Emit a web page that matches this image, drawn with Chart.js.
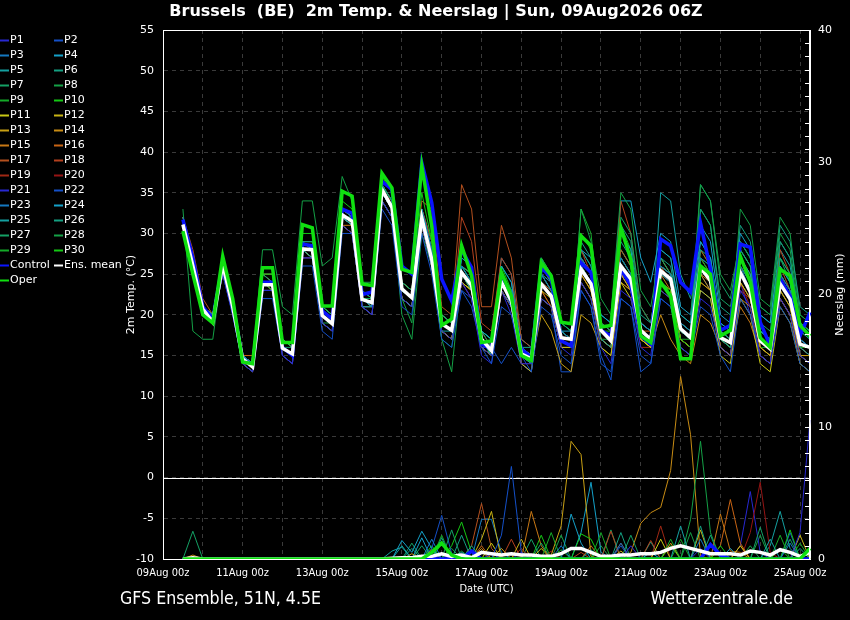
<!DOCTYPE html>
<html>
<head>
<meta charset="utf-8">
<script src="https://cdn.jsdelivr.net/npm/chart.js@4/dist/chart.umd.min.js"></script>
<style>
  html, body { margin: 0; padding: 0; background: #000; }
  #wrap { width: 850px; height: 620px; position: relative; }
</style>
</head>
<body>
<div id="wrap"><canvas id="meteogram" width="850" height="620"></canvas></div>
<script>
// time axis: 09Aug 00z .. 25Aug 06z, 6-hourly; model output starts 09Aug 12z
const days = ['09Aug','10Aug','11Aug','12Aug','13Aug','14Aug','15Aug','16Aug','17Aug','18Aug','19Aug','20Aug','21Aug','22Aug','23Aug','24Aug','25Aug'];
const synopHours = ['00z','06z','12z','18z'];
const leadSteps = 2;   // 09Aug 00z and 06z have no data

const memberNames = ['P1','P2','P3','P4','P5','P6','P7','P8','P9','P10','P11','P12','P13','P14','P15','P16','P17','P18','P19','P20','P21','P22','P23','P24','P25','P26','P27','P28','P29','P30'];
const memberColors = ['#2828d2','#1450c8','#1478c0','#14a0c8','#14a0a0','#14a082','#14a064','#14a046','#14aa28','#14c814',
                      '#c8c814','#c8b414','#c8a014','#c88c14','#c87814','#c86414','#b4501e','#b4401e','#a02814','#961414',
                      '#2828d2','#1450c8','#1478c0','#14a0c8','#14a0a0','#14a082','#14a064','#14a046','#14aa28','#14c814'];

// 2m temperature (°C)
const tempMean = [31.1,26,20.7,19.1,26.2,21,14.6,13.6, 23.7,23.7,15.9,15.2,28.1,28,19.9,18.9, 32.3,31.5,21.9,21.5,35.4,33.2,23.2,22.1, 31.9,26.8,18.9,18.1,25.2,23.6,17,15.6, 24,21.7,15.2,14.6,23.8,22.3,17.2,17, 25.6,23.8,18.1,16.8,26,24.4,18.1,17, 25.4,24.4,18.3,17.2,25.8,24.2,17.2,16.6, 25.2,22.8,16.8,15.8,23.8,21.9,16.4,16];
const tempControl = [31.7,27,21,19.5,26.5,21.5,14.5,13.8, 24,24,16,15,28.7,28.5,20.5,19.5, 33,32.5,22.5,22.8,36.4,35.4,26,25, 38.7,33.8,24.4,21.7,28,25.8,16.4,15.8, 24.8,21.7,15.8,14.8,25.8,24.6,16.8,16.2, 26.4,25.2,18.1,17.4,25.6,23.6,17.4,16.4, 29.3,28.5,24,22.8,31.3,25.6,18.1,18.7, 28.7,28.3,19.1,16.2,24.4,22.3,17.4,20.3];
const tempOper = [30.3,25,20,19,27.2,22,14.2,14, 25.8,25.8,16.6,16.6,31.1,30.7,21.1,21.1, 35.2,34.6,23.8,23.6,37.4,35.6,25.6,25.2, 38.3,30.9,18.7,19.5,28.5,24.8,16.6,16.8, 25.2,22.3,15,14.4,26.4,24.8,19.1,18.9, 29.7,28.5,18.5,18.7,30.7,26.8,17.4,16.6, 24,22.3,14.6,14.6,26,25,17.4,18.1, 27.2,24,17.2,16,25.6,24.8,18.7,17.4];

const tempP1  = [31,26,20,19,25,20,14,13, 23,23,15,14,27,27,19,18, 31,30,21,20,34,32,22,21, 31,26,18,17,24,22,16,15, 23,21,14,14,22,21,16,15, 24,22,16,14,23,22,16,15, 23,22,16,15,22,21,16,15, 23,21,15,14,22,20,15,14];
const tempP2  = [30,25,20,19,25,20,14,13, 22,22,15,14,26,26,18,17, 30,30,21,20,33,31,21,20, 30,25,17,16,23,22,16,14, 21,20,15,13,21,20,15,14, 23,21,14,13,22,21,15,14, 22,21,16,15,21,20,15,13, 22,20,15,14,21,19,14,13];
const tempP3  = [32,27,21,20,27,22,15,14, 24,24,16,15,29,28,20,19, 33,32,22,21,35,33,23,22, 33,28,19,18,26,24,17,16, 25,22,16,15,25,23,18,17, 27,25,18,17,27,25,19,18, 26,25,19,18,27,26,18,17, 26,24,17,16,25,23,17,16];
const tempP4  = [31,26,21,19,26,21,15,14, 24,24,16,15,28,28,20,19, 32,31,22,21,35,33,23,22, 32,27,19,18,27,26,18,17, 26,24,16,15,25,24,18,18, 28,27,20,19,30,28,19,18, 28,27,20,19,29,27,19,18, 27,25,18,17,26,24,17,16];
const tempP5  = [30,26,20,19,26,21,15,14, 23,23,16,15,28,27,19,18, 32,31,21,21,34,32,22,21, 31,27,18,18,25,23,17,15, 24,21,15,14,24,22,17,16, 26,24,17,16,26,24,18,17, 25,24,18,17,26,24,17,16, 25,23,17,16,24,22,16,15];
const tempP6  = [31,27,21,20,27,22,15,14, 25,24,17,16,29,29,21,20, 33,32,23,22,36,34,24,23, 33,28,20,19,26,25,18,17, 25,23,16,16,26,24,19,18, 29,27,19,18,31,29,20,19, 27,26,19,18,28,27,19,18, 28,26,18,17,27,25,18,17];
const tempP7  = [30,25,20,19,26,21,15,14, 24,24,16,16,29,28,20,19, 33,32,22,22,36,34,23,22, 32,27,19,18,26,24,18,16, 25,23,16,15,25,23,18,17, 27,25,18,17,32,30,21,19, 27,25,19,18,33,31,22,21, 28,26,18,17,29,27,19,18];
const tempP8  = [33,18,17,17,26,21,15,14, 28,28,21,20,34,34,26,27, 37,34,24,24,36,33,20,17, 30,26,17,16,25,24,17,15, 24,22,15,14,24,22,18,17, 33,29,22,20,35,33,23,21, 28,27,20,19,36,34,25,23, 29,27,21,20,30,28,20,19];
const tempP9  = [31,26,21,19,26,21,14,14, 24,23,16,15,28,28,20,19, 32,32,22,21,36,34,23,22, 33,27,19,18,25,24,17,16, 24,22,15,14,24,22,17,17, 33,30,18,17,27,25,18,17, 26,25,18,17,27,25,17,16, 26,24,17,16,25,23,16,16];
const tempP10 = [30,25,20,19,27,22,15,14, 25,25,17,16,30,30,21,20, 34,33,23,22,37,35,24,23, 35,29,20,19,26,24,18,17, 26,23,16,15,27,25,19,18, 30,28,18,17,31,28,19,18, 24,23,17,16,27,26,18,17, 28,26,18,17,27,25,19,18];
const tempP11 = [31,26,21,19,25,21,14,13, 24,24,16,15,28,27,20,19, 32,31,22,21,35,33,22,21, 31,26,18,17,24,23,16,15, 23,21,14,13,22,21,16,16, 24,22,16,15,24,22,17,16, 23,22,16,15,23,22,15,14, 22,20,14,13,21,19,14,13];
const tempP12 = [31,27,21,20,26,21,15,14, 24,23,16,15,28,28,20,19, 32,31,22,21,35,33,23,22, 32,27,19,18,25,23,17,16, 24,22,15,15,23,22,17,16, 25,23,17,16,25,23,17,16, 24,23,17,16,24,23,16,15, 24,22,16,15,23,21,15,14];
const tempP13 = [31,26,20,19,26,21,15,14, 24,24,16,15,28,28,20,19, 31,30,21,20,34,32,22,21, 31,26,18,17,24,23,16,15, 23,21,15,14,20,18,14,13, 20,19,16,15,24,23,17,16, 24,23,17,16,25,23,17,16, 24,22,16,15,23,21,15,15];
const tempP14 = [32,27,21,20,26,22,15,14, 24,24,16,15,28,28,20,19, 32,31,22,21,35,33,23,22, 32,27,19,18,25,24,17,16, 24,22,16,15,24,22,17,17, 26,24,18,17,25,23,17,16, 20,17,15,14,20,19,16,15, 22,21,15,14,22,20,14,13];
const tempP15 = [30,26,20,19,26,21,14,14, 23,23,16,15,28,27,19,18, 31,31,21,21,35,33,22,21, 32,26,18,17,24,23,16,15, 23,21,15,14,23,21,17,16, 25,23,17,16,25,24,17,16, 25,23,17,16,25,24,16,15, 21,19,15,14,22,20,15,14];
const tempP16 = [31,27,21,20,27,22,15,15, 25,25,17,16,29,28,20,19, 33,32,22,21,36,34,24,23, 33,28,19,18,26,25,18,16, 25,22,16,15,24,23,18,17, 27,25,18,17,27,25,18,18, 26,25,19,18,26,25,18,17, 26,24,18,17,25,23,16,15];
const tempP17 = [32,28,22,20,27,22,15,14, 25,24,17,16,29,29,21,20, 33,32,23,22,36,34,24,23, 34,33,21,20,36,33,21,21, 31,27,17,16,25,23,18,17, 27,25,19,18,28,26,19,18, 27,25,18,17,28,26,18,17, 27,25,17,16,26,23,16,15];
const tempP18 = [31,27,21,20,26,21,15,14, 24,24,16,15,28,28,20,19, 32,31,22,21,35,34,24,23, 33,29,20,19,32,29,19,18, 27,25,16,15,26,24,17,17, 28,25,18,17,34,30,21,19, 26,24,18,17,27,25,17,16, 26,24,17,16,28,25,17,16];
const tempP19 = [30,26,20,19,25,21,14,13, 23,23,15,14,27,27,19,18, 31,30,21,20,34,32,22,21, 31,26,18,17,24,22,16,15, 23,21,14,14,23,21,16,16, 25,23,17,16,24,23,16,16, 24,23,17,16,24,23,16,15, 23,22,16,15,24,22,15,15];
const tempP20 = [31,26,21,19,26,21,15,14, 24,23,16,15,28,28,20,19, 32,31,22,21,35,33,23,22, 32,27,19,18,25,24,17,16, 24,22,16,15,24,22,17,17, 26,24,18,17,26,24,18,17, 25,24,18,17,26,24,17,16, 24,21,15,14,25,22,16,16];
const tempP21 = [31,26,20,19,26,21,14,14, 24,24,16,15,28,27,20,19, 32,31,21,21,35,33,22,21, 32,27,18,17,24,22,15,14, 23,20,14,13,22,21,16,16, 24,22,17,16,25,23,17,16, 25,24,18,17,25,23,17,16, 24,20,15,14,23,21,16,15];
const tempP22 = [31,26,21,19,26,21,15,14, 23,23,15,14,27,27,19,18, 31,30,21,20,34,32,22,21, 31,26,18,17,23,21,16,16, 14,16,14,13,22,21,13,13, 23,21,15,12,22,21,13,14, 22,21,17,16,23,22,16,15, 24,22,16,15,22,20,15,14];
const tempP23 = [31,27,21,20,26,21,15,14, 24,24,16,15,29,28,20,19, 32,32,22,21,35,33,23,22, 32,27,19,18,25,24,17,16, 25,22,15,15,24,23,18,17, 27,25,18,17,27,25,18,17, 26,25,18,17,26,25,18,17, 26,23,17,16,25,23,17,16];
const tempP24 = [32,27,21,20,27,22,15,14, 25,25,17,16,29,29,21,20, 33,32,23,22,36,34,24,23, 33,29,20,19,27,26,18,17, 27,25,17,16,27,24,18,17, 26,24,20,19,34,34,27,24, 30,29,21,20,31,29,20,19, 30,28,20,19,29,27,19,18];
const tempP25 = [31,26,21,19,26,21,15,14, 24,24,16,15,28,28,20,19, 32,31,22,21,35,33,23,22, 32,27,19,18,26,24,17,16, 26,24,16,15,27,25,19,18, 28,26,19,18,28,26,18,17, 35,34,25,22,29,27,19,18, 29,27,20,19,28,26,19,18];
const tempP26 = [31,26,20,19,26,21,15,14, 24,24,16,15,28,28,20,19, 33,32,22,21,35,33,23,22, 32,27,19,18,25,24,17,16, 25,23,16,15,26,24,18,17, 28,26,19,18,29,27,19,18, 26,25,18,17,33,31,21,20, 31,29,21,20,31,29,21,20];
const tempP27 = [30,25,20,19,26,21,15,14, 24,24,16,15,28,27,20,19, 32,31,22,21,35,33,23,22, 31,26,18,17,24,23,16,15, 23,21,15,14,24,22,17,16, 26,24,18,17,26,24,18,17, 26,24,18,17,36,34,24,22, 29,27,19,18,27,24,18,17];
const tempP28 = [31,26,21,19,26,21,14,14, 24,23,16,15,28,27,19,19, 32,31,21,21,35,33,22,19, 31,27,17,13,25,23,17,15, 25,22,16,15,26,24,17,17, 27,25,17,17,27,25,18,17, 26,25,18,17,27,25,18,17, 33,31,22,21,32,30,20,19];
const tempP29 = [30,26,20,19,26,21,15,14, 24,24,16,15,28,28,20,19, 32,31,22,21,35,33,23,22, 32,27,19,18,25,23,17,16, 24,22,15,15,24,22,17,16, 26,24,17,16,26,24,17,17, 25,24,17,17,26,24,17,16, 25,23,16,16,24,22,16,15];
const tempP30 = [31,26,21,20,27,22,15,14, 25,24,17,16,29,29,21,20, 33,32,22,22,36,34,24,23, 33,28,20,19,26,25,18,17, 25,23,16,15,25,23,18,17, 27,25,18,18,28,26,19,18, 27,25,19,18,28,26,18,17, 27,25,18,17,26,24,17,16];

// 6-hourly precipitation (mm)
const precMean    = [0,0.1,0,0,0,0,0,0, 0,0,0,0,0,0,0,0, 0,0,0,0,0,0.05,0.1,0.1, 0.2,0.2,0.4,0.2,0.3,0.1,0.5,0.4, 0.3,0.4,0.3,0.3,0.2,0.2,0.4,0.8, 0.8,0.5,0.2,0.2,0.3,0.3,0.4,0.4, 0.5,0.8,1,0.8,0.6,0.4,0.4,0.4, 0.3,0.6,0.5,0.3,0.7,0.5,0.2,0.5];
const precControl = [0,0,0,0,0,0,0,0, 0,0,0,0,0,0,0,0, 0,0,0,0,0,0,0,0, 0,0,0,0,0,0.6,0,0, 0,0,0,0,0,0,0,0, 0,0,0,0,0,0,0,0, 0,0,0,0,0,1.1,0.3,0, 0,0,0,0,0,0,0,0];
const precOper    = [0,0,0,0,0,0,0,0, 0,0,0,0,0,0,0,0, 0,0,0,0,0,0,0,0, 0,0.5,1.2,0.3,0,0,0,0, 0,0,0,0,0,0,0,0, 0,0,0,0,0,0,0,0, 0,0,0,0,0,0,0,0, 0,0,0,0,0,0,0,0.8];

const precP1  = [0,0,0,0,0,0,0,0, 0,0,0,0,0,0,0,0, 0,0,0,0,0,0,0,0, 0,0,0,0,0,0,0,0.4, 0,0,0.5,0,0,0,0,0, 0,0,0,0,0,1,0,0, 0,0,0,0,0.8,0,0,0, 0,0,0,0,0,0,2,10.5];
const precP2  = [0,0,0,0,0,0,0,0, 0,0,0,0,0,0,0,0, 0,0,0,0,0,0,0,0, 0,0,0,0,0,0,0,0, 1.8,7,0.5,0,0,0,0,0, 0,0,0,0.3,0,0,0,0, 0,0,0,0,0,0,0,0, 0,0,0,0,0,0,0,0];
const precP3  = [0,0,0,0,0,0,0,0, 0,0,0,0,0,0,0,0, 0,0,0,0,0,0,0,0, 0,1.5,0,0,0,0,0,0, 0,0,0,0,0,0,1,0, 0,0,0,0,1.2,0,0,0, 0,0,0,0,1.5,0,0,0, 0,0,0,0,0,1.2,0,0];
const precP4  = [0,0,0,0,0,0,0,0, 0,0,0,0,0,0,0,0, 0,0,0,0,0,0,1.4,0.5, 2.1,0.8,0,0,0,0,0,0, 0,0,0,0,0,0,0,3.4, 1.2,0,0,0,0,0,0,0.5, 0,0,0,0,0,0,0,0.8, 0,0,0,0,0,0,0,0];
const precP5  = [0,0,0,0,0,0,0,0, 0,0,0,0,0,0,0,0, 0,0,0,0,0,0.6,0.9,0, 0,0,0,0,0.5,0,0,0, 0,0,0,0,0,0,0,0, 0,0.7,0,0,0,0,0,0, 0,0,2.5,0,0,0,0,0, 0,0,0,1.5,0,0,0,0];
const precP6  = [0,0,0,0,0,0,0,0, 0,0,0,0,0,0,0,0, 0,0,0,0,0,0,0,0.8, 0,0,1.6,0,0,1,0,0, 0,0,0,0,0,0,0,0, 0,0,0,0,2,0,0,0, 0,0,0,0,2.5,0,0,0, 0,0,0,0,0,0,0.8,0];
const precP7  = [0,2.1,0,0,0,0,0,0, 0,0,0,0,0,0,0,0, 0,0,0,0,0,0,0,0, 1,0,0,2.2,0,0,0,0, 0,0,0,0,1.2,0,0,0, 0,0,0,0,0,1.8,0,0, 0,0,0,0,0,0,0,0, 0,0,2.4,0,0,0,0,0];
const precP8  = [0,0,0,0,0,0,0,0, 0,0,0,0,0,0,0,0, 0,0,0,0,0,0,0,0, 0,0,0,0,0.6,0,0,0, 0,0,0,0,0,0,1.8,0, 0,0,0,0,0,0,0,0, 0,0,0,3,8.9,2,0,0, 0,1,0,0,0,0,0,0];
const precP9  = [0,0,0,0,0,0,0,0, 0,0,0,0,0,0,0,0, 0,0,0,0,0,0,0,0, 0,0,1.2,0,0,0,0,0, 0,0,0,0,0,2,0,0, 0,0,2,0,0,0,0,0, 0,1.5,0,0,0,0,0,0, 0,0,0,0,1.8,0,0,0];
const precP10 = [0,0,0,0,0,0,0,0, 0,0,0,0,0,0,0,0, 0,0,0,0,0,0,0,0, 0,0,0,1,2.8,0.5,0,0, 0,0,0,0,0,0,0,0, 1.9,1.5,0,0,0,0,0,0, 0,0,0,0,0,0,1,0, 0,0,0,0,0,2.2,0,0];
const precP11 = [0,0,0,0,0,0,0,0, 0,0,0,0,0,0,0,0, 0,0,0,0,0,0,0,0, 0,0,0,0,0,0,0,1.2, 0,0,0,0,0.8,0,0,0, 0,0,0,0,0,0,0,0, 1.5,0,0,0,0,0,0,0, 1,0,0,0,0,0,0,0];
const precP12 = [0,0,0,0,0,0,0,0, 0,0,0,0,0,0,0,0, 0,0,0,0,0,0,0,0, 0,0.7,0,0,0,0,1.5,3.6, 0,0,1.5,0,0,0,0,0, 0,0,0,0,0.6,0,0,0, 0,0,0,0,2.2,0,0,0, 0,0,0,0,0,0,1.8,0];
const precP13 = [0,0,0,0,0,0,0,0, 0,0,0,0,0,0,0,0, 0,0,0,0,0,0,0,0.4, 0,0,0,0,0,0,0,0, 0.8,0,0,0,0,0.3,2.5,8.9, 7.9,0.2,0,0,0,0,0,0, 0,1.2,0,0,0,0,0,0, 0,0,0,0,0,0,0,0];
const precP14 = [0,0.3,0,0,0,0,0,0, 0,0,0,0,0,0,0,0, 0,0,0,0,0,0,0,0, 0,0,0,0,0,0,0.8,0, 0,0,0,0,0,0,0,0, 0,0,0,0,0,0.5,2.7,3.5, 3.9,6.7,13.8,9.4,0.2,0,0,0, 0,0,0,0,0,0,0,0];
const precP15 = [0,0,0,0,0,0,0,0, 0,0,0,0,0,0,0,0, 0,0,0,0,0,0,0,0, 0,0,0,0,0,0,0.5,0, 0,0,0,3.6,1,0,0,0, 0,0,0,0,0,0,0,0, 0,0,0,0,0,0,3.4,0.6, 0.5,0,0,0,0,0,0,0];
const precP16 = [0,0,0,0,0,0,0,0, 0,0,0,0,0,0,0,0, 0,0,0,0,0,0,0,0, 0,0,0,0,0,0,1,0, 0,0,0,0,0,0,0,0, 0,1,0,0,0,0,0,0, 0,0,0,0,0,0,1,4.5, 1.2,0,0,0,0,0,0,0];
const precP17 = [0,0,0,0,0,0,0,0, 0,0,0,0,0,0,0,0, 0,0,0,0,0,0,0,0, 0,0,0,0,0,1,4.2,0.8, 0,0,0,0,0,0,0,0, 0,0,0,0,0,0,0,0, 0,0,0,0,0,0,0,0, 0,0,0,0,0,0,0,0.6];
const precP18 = [0,0,0,0,0,0,0,0, 0,0,0,0,0,0,0,0, 0,0,0,0,0,0,0,0, 0,0,0,0,0,0,0,0, 0,1.5,0,0,0,0,0,0, 0.5,0,0,2.1,0,0,0,1.4, 0,0,0,0,0,0,0,0, 1,0,0,0,0,0,0,0];
const precP19 = [0,0,0,0,0,0,0,0, 0,0,0,0,0,0,0,0, 0,0,0,0,0,0,0,0, 0,0,0,0,0,0,0,0, 0,0,0.8,0,0,0,0,0, 0,0,0,0,1.2,0,0,0, 2.5,0,0,0,0,0,0,0, 0,0,0,0,0,0,0,0];
const precP20 = [0,0,0,0,0,0,0,0, 0,0,0,0,0,0,0,0, 0,0,0,0,0,0,0,0, 0,0,0,0,0,0,0,0, 0,0,0,0,0,0.6,0,0, 0,0,0,0,0,0,0,0, 0,0,0,0,0,0,0,0, 0,2,5.8,0.5,0,0,0,0];
const precP21 = [0,0,0,0,0,0,0,0, 0,0,0,0,0,0,0,0, 0,0,0,0,0,0,0,0, 0,0,0.3,0,0,0,0,0, 0,0,0,0,0,0,0,0, 0,0,0,0,0,0,0,0, 0,0,0,0,0,0,0,0, 1,5.1,0.5,0,0,0,0,0];
const precP22 = [0,0,0,0,0,0,0,0, 0,0,0,0,0,0,0,0, 0,0,0,0,0,0,0,0, 0,0.8,3.3,0.4,0,0,0,0, 0,0,0,0,0,0,0,0, 0,0,0,0,1,0,0,0, 0,0,0,0,0,0,0,0, 0,0,0,0,0,2,0,0];
const precP23 = [0,0,0,0,0,0,0,0, 0,0,0,0,0,0,0,0, 0,0,0,0,0,0,0,0, 0,0,0,0,0,0,3,3, 0.5,0,0,0,0,0,0,0, 0,0,0,0,0,0,0,0, 0,0,0,0,0,0,0,0, 0,0,0,0,0,0,0,0];
const precP24 = [0,0,0,0,0,0,0,0, 0,0,0,0,0,0,0,0, 0,0,0,0,0,0,0,0, 1.6,0,0,0,0,0,0,0, 0,0,0,0,0,0,0,0, 2,5.8,0.5,0,0,0,0,0, 0,0,0,0,0,0,0,0, 0,0,0,0,0,0,0,0];
const precP25 = [0,0,0,0,0,0,0,0, 0,0,0,0,0,0,0,0, 0,0,0,0,0,0,1,0, 0,0,0,0,0,0,0,0, 0,0,0,0,0,0,0,0, 0,0,0,0,0,0,0,0, 0,0,0,0,0,0,0,0, 0,0,0,1,3.6,0.8,0,0];
const precP26 = [0,0,0,0,0,0,0,0, 0,0,0,0,0,0,0,0, 0,0,0,0,0,0,0,0, 0,0,0,0,1.8,0,0,0, 0,0,0,0,0,0,0,0, 0,0,0,0,0,0,0,1.3, 0,0,0,0,0,1.8,0,0, 0,0,0,0,0,0,0,0];
const precP27 = [0,0,0,0,0,0,0,0, 0,0,0,0,0,0,0,0, 0,0,0,0,0,0,0,1.2, 0,0,0,0,0,0,0,0, 0,0,0,1.5,0,0,0,0, 0,0,0,2.2,0,0,0,0, 0,0,0,0,0,0,0,0, 0,0,0,0,0,1.5,0,0];
const precP28 = [0,0,0,0,0,0,0,0, 0,0,0,0,0,0,0,0, 0,0,0,0,0,0,0,0, 0,0,0,0.8,0,0,0,0, 0,0,0,0,0,0,0,0, 0,0,1,0,0,0,0,0, 0,0,0,2,0,0,0,0, 0,0,1.8,0,0,0,0,0];
const precP29 = [0,0,0,0,0,0,0,0, 0,0,0,0,0,0,0,0, 0,0,0,0,0,0,0,0, 0,0,1.8,0,0,0,0,0, 0,0,0,0,0,0,0.7,0, 0,0,0,0,0,0,0,0, 0,0,1.5,0,0,0,0,0, 0,0,0,0,0,0,1.2,0];
const precP30 = [0,0,0,0,0,0,0,0, 0,0,0,0,0,0,0,0, 0,0,0,0,0,0,0,0, 0,1,0,0,0,0,0,0, 0,0,0,0,1.8,0,0,0, 0,0,0,0,0,0,0,0, 0,1,0,0,0,0,0,0, 0,0,0,0,0.8,0,0,0];

const memberTemps = [tempP1,tempP2,tempP3,tempP4,tempP5,tempP6,tempP7,tempP8,tempP9,tempP10,tempP11,tempP12,tempP13,tempP14,tempP15,
                     tempP16,tempP17,tempP18,tempP19,tempP20,tempP21,tempP22,tempP23,tempP24,tempP25,tempP26,tempP27,tempP28,tempP29,tempP30];
const memberPrecs = [precP1,precP2,precP3,precP4,precP5,precP6,precP7,precP8,precP9,precP10,precP11,precP12,precP13,precP14,precP15,
                     precP16,precP17,precP18,precP19,precP20,precP21,precP22,precP23,precP24,precP25,precP26,precP27,precP28,precP29,precP30];

// category labels for the whole time axis
const timeLabels = [];
days.forEach(d => synopHours.forEach(h => timeLabels.push(d + ' ' + h)));
timeLabels.length = leadSteps + tempMean.length;

function onAxis(values) {
  return new Array(leadSteps).fill(null).concat(values);
}

function series(label, values, color, width, axis, order) {
  return {
    label: label,
    data: onAxis(values),
    yAxisID: axis,
    borderColor: color,
    backgroundColor: color,
    borderWidth: width,
    pointRadius: 0,
    tension: 0,
    fill: false,
    order: order
  };
}

const datasets = [];
memberNames.forEach((name, k) => {
  datasets.push(series(name, memberTemps[k], memberColors[k], 1, 'y', 10));
  datasets.push(series(name, memberPrecs[k], memberColors[k], 1, 'y2', 10));
});
datasets.push(series('Control', tempControl, '#0a14ff', 3.5, 'y', 3));
datasets.push(series('Control', precControl, '#0a14ff', 3.5, 'y2', 3));
datasets.push(series('Ens. mean', tempMean, '#ffffff', 3.5, 'y', 2));
datasets.push(series('Ens. mean', precMean, '#ffffff', 3.5, 'y2', 2));
datasets.push(series('Oper', tempOper, '#10e010', 3.5, 'y', 1));
datasets.push(series('Oper', precOper, '#10e010', 3.5, 'y2', 1));

const legendEntries = memberNames.map((n, k) => ({text: n, color: memberColors[k]}))
  .concat([{text: 'Control', color: '#0a14ff'}, {text: 'Ens. mean', color: '#ffffff'}, {text: 'Oper', color: '#10e010'}]);

const condensed = '"DejaVu Sans Condensed", "DejaVu Sans", sans-serif';
const regular = '"DejaVu Sans", sans-serif';

const decorations = {
  id: 'decorations',
  beforeDatasetsDraw(chart) {
    const {ctx, chartArea: a, scales} = chart;
    const y0 = Math.round(scales.y.getPixelForValue(0)) + 0.5;
    ctx.save();
    ctx.strokeStyle = '#ffffff';
    ctx.lineWidth = 1;
    ctx.beginPath();
    ctx.moveTo(a.left, y0);
    ctx.lineTo(a.right, y0);
    ctx.stroke();
    ctx.restore();
  },
  afterDraw(chart) {
    const {ctx, chartArea: a, scales} = chart;
    ctx.save();
    ctx.strokeStyle = '#ffffff';
    ctx.lineWidth = 1;
    ctx.strokeRect(Math.round(a.left) + 0.5, Math.round(a.top) + 0.5, Math.round(a.right - a.left) - 1, Math.round(a.bottom - a.top));
    // small inside ticks on the precipitation axis
    ctx.beginPath();
    scales.y2.ticks.forEach(t => {
      const y = Math.round(scales.y2.getPixelForValue(t.value)) + 0.5;
      ctx.moveTo(a.right - 5, y);
      ctx.lineTo(a.right, y);
    });
    ctx.stroke();

    ctx.fillStyle = '#ffffff';
    ctx.textBaseline = 'middle';

    ctx.textAlign = 'center';
    ctx.font = 'bold 16px ' + regular;
    ctx.fillText('Brussels  (BE)  2m Temp. & Neerslag | Sun, 09Aug2026 06Z', 436, 12);

    ctx.font = '11px ' + condensed;
    ctx.fillText('Date (UTC)', (a.left + a.right) / 2, 589);

    ctx.font = '17.6px ' + condensed;
    ctx.textAlign = 'left';
    ctx.fillText('GFS Ensemble, 51N, 4.5E', 120, 599);
    ctx.textAlign = 'right';
    ctx.fillText('Wetterzentrale.de', 793, 599);

    // axis titles
    ctx.font = '11px ' + regular;
    ctx.textAlign = 'center';
    ctx.save();
    ctx.translate(131, (a.top + a.bottom) / 2);
    ctx.rotate(-Math.PI / 2);
    ctx.fillText('2m Temp. (°C)', 0, 0);
    ctx.restore();
    ctx.save();
    ctx.translate(840, (a.top + a.bottom) / 2);
    ctx.rotate(-Math.PI / 2);
    ctx.fillText('Neerslag (mm)', 0, 0);
    ctx.restore();

    // legend, two columns
    ctx.textAlign = 'left';
    ctx.font = '11px ' + regular;
    legendEntries.forEach((e, k) => {
      const col = k % 2;
      const row = Math.floor(k / 2);
      const x = col === 0 ? 0 : 54;
      const y = 40 + row * 15;
      ctx.strokeStyle = e.color;
      ctx.lineWidth = 2;
      ctx.beginPath();
      ctx.moveTo(x, y + 0.5);
      ctx.lineTo(x + 9, y + 0.5);
      ctx.stroke();
      ctx.fillStyle = '#ffffff';
      ctx.fillText(e.text, x + 10, y);
    });
    ctx.restore();
  }
};

new Chart(document.getElementById('meteogram'), {
  type: 'line',
  data: { labels: timeLabels, datasets: datasets },
  plugins: [decorations],
  options: {
    responsive: false,
    animation: false,
    layout: { padding: { top: 30, left: 0, right: 0, bottom: 0 } },
    plugins: { legend: { display: false }, title: { display: false }, tooltip: { enabled: false } },
    scales: {
      x: {
        type: 'category',
        offset: false,
        afterFit: s => { s.height = 61; },
        grid: {
          color: c => (c.index % 4 === 0 ? '#3a3a3a' : 'rgba(0,0,0,0)'),
          drawTicks: false
        },
        border: { color: '#ffffff', dash: [4, 4] },
        ticks: {
          autoSkip: false,
          maxRotation: 0,
          padding: 8,
          color: '#ffffff',
          font: { family: condensed, size: 11 },
          callback: function (v, i) { return i % 8 === 0 ? this.getLabelForValue(v) : ''; }
        }
      },
      y: {
        position: 'left',
        min: -10,
        max: 55,
        afterFit: s => { s.width = 163; },
        grid: { color: '#3a3a3a', drawTicks: false },
        border: { color: '#ffffff', dash: [4, 4] },
        ticks: { stepSize: 5, padding: 9, color: '#ffffff', font: { family: regular, size: 11 } }
      },
      y2: {
        position: 'right',
        min: 0,
        max: 40,
        afterFit: s => { s.width = 40; },
        grid: { drawOnChartArea: false, drawTicks: false },
        border: { color: '#ffffff' },
        ticks: {
          stepSize: 1,
          autoSkip: false,
          padding: 8,
          color: '#ffffff',
          font: { family: regular, size: 11 },
          callback: v => (v % 10 === 0 ? v : '')
        }
      }
    }
  }
});
</script>
</body>
</html>
